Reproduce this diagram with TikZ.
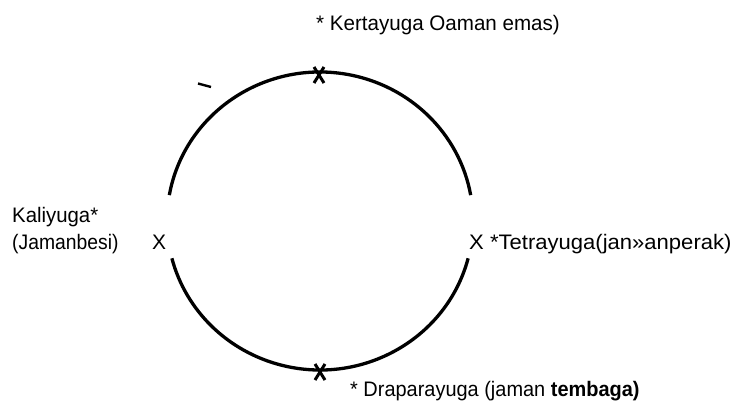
\documentclass[tikz,border=0pt]{standalone}
\usepackage{fontspec}
\setmainfont{Liberation Sans}
\begin{document}
\begin{tikzpicture}[x=1pt,y=-1pt,
  lbl/.style={inner sep=0pt,anchor=base west,font=\fontsize{21}{25}\selectfont},
  ring/.style={line width=3.3pt},
  crossmark/.style={line width=3pt}]
\useasboundingbox (0,0) rectangle (735,414);
\coordinate (c) at (320,221);
% circle arcs with gaps at the side marks (y axis points down)
\draw[ring] (c) ++(190:153 and 149) arc[start angle=190,end angle=350,x radius=153,y radius=149];
\draw[ring] (c) ++(14.5:153 and 149) arc[start angle=14.5,end angle=165.5,x radius=153,y radius=149];
% markers top and bottom
\coordinate (top) at (319,75);
\coordinate (bot) at (320,372);
\draw[crossmark] (top) ++(-5,-8) -- ++(10,16) (top) ++(5,-8) -- ++(-10,16);
\draw[crossmark] (bot) ++(-5,-8) -- ++(10,16) (bot) ++(5,-8) -- ++(-10,16);
% small stray stroke
\draw[line width=2.4pt] (198,83.5) -- (211,87);
% labels
\node[lbl] (kerta) at (316,31) {\scalebox{0.98}[1]{* Kertayuga Oaman emas)}};
\node[lbl] (kali) at (12,222) {\scalebox{0.97}[1]{Kaliyuga*}};
\node[lbl] (kali2) at (12,249) {\scalebox{0.92}[1]{(Jamanbesi)}};
\node[lbl] (xl) at (152,249) {X};
\node[lbl] (tetra) at (469,249) {\scalebox{1.05}[1]{X *Tetrayuga(jan»anperak)}};
\node[lbl] (drapa) at (350,396) {\scalebox{0.95}[1]{* Draparayuga (jaman \textbf{tembaga)}}};
\end{tikzpicture}
\end{document}
